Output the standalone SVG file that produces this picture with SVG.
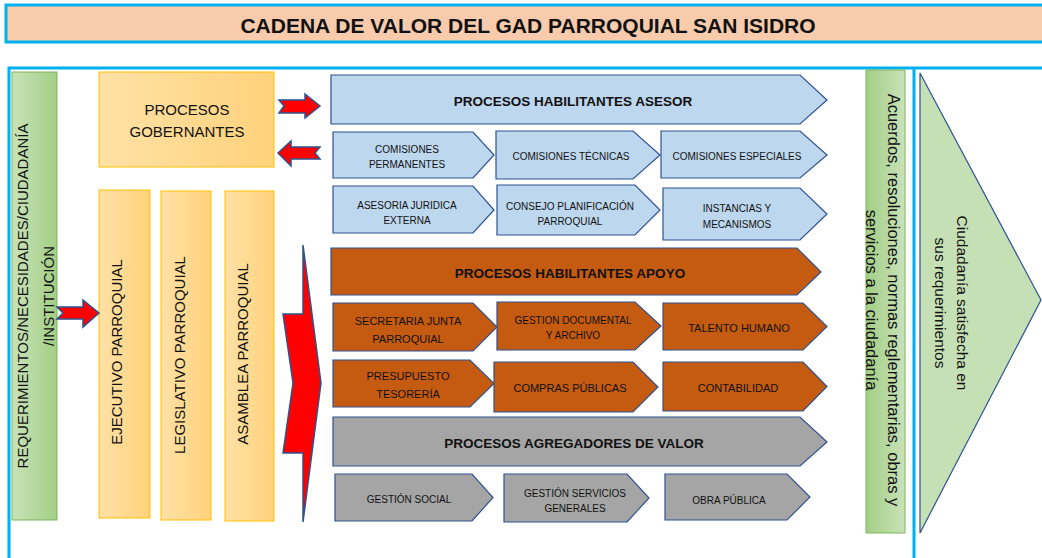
<svg xmlns="http://www.w3.org/2000/svg" width="1042" height="558" viewBox="0 0 1042 558">
<defs>
<linearGradient id="gGreen" x1="0" y1="0" x2="1" y2="0"><stop offset="0" stop-color="#C9E2B8"/><stop offset="1" stop-color="#A3CE86"/></linearGradient>
<linearGradient id="gGreenR" x1="0" y1="0" x2="1" y2="0"><stop offset="0" stop-color="#A3CE86"/><stop offset="1" stop-color="#C9E2B8"/></linearGradient>
<linearGradient id="gOrange" x1="0" y1="0" x2="1" y2="0"><stop offset="0" stop-color="#FFE1A6"/><stop offset="1" stop-color="#FFD27C"/></linearGradient>
</defs>
<style>
text{font-family:"Liberation Sans",Arial,sans-serif;fill:#111}
.frame{fill:none;stroke:#00B0F0;stroke-width:3}
.green{fill:url(#gGreen);stroke:#7DB75A;stroke-width:1}
.greenR{fill:url(#gGreenR);stroke:#7DB75A;stroke-width:1}
.orange{fill:url(#gOrange);stroke:#FFC000;stroke-width:1}
.blue{fill:#BDD7EE;stroke:#2F528F;stroke-width:1.2}
.brown{fill:#C55A11;stroke:#2F528F;stroke-width:1.2}
.grey{fill:#A5A5A5;stroke:#2F528F;stroke-width:1.2}
.tri{fill:#C5E0B4;stroke:#2F528F;stroke-width:1.2}
.red{fill:#FF0000;stroke:#2F528F;stroke-width:1.5;stroke-linejoin:miter}
.hd{font-weight:bold;font-size:13.5px;text-anchor:middle}
.sm{font-size:10px;text-anchor:middle}
.md{font-size:11px;text-anchor:middle}
.vt{font-size:15px;text-anchor:middle}
</style>

<g id="title">
<rect x="6" y="5" width="1045" height="37" fill="#F8CBAD" stroke="#00B0F0" stroke-width="3"/>
<text x="528" y="33" font-size="21" font-weight="bold" text-anchor="middle">CADENA DE VALOR DEL GAD PARROQUIAL SAN ISIDRO</text>
</g>

<g id="frame">
<path class="frame" d="M9,558 V68 H1045 M914,68 V558"/>
</g>

<g id="entrada">
<rect class="green" x="12" y="72" width="45" height="448"/>
<text class="vt" transform="translate(28,296) rotate(-90)">REQUERIMIENTOS/NECESIDADES/CIUDADANÍA</text>
<text class="vt" transform="translate(54,296) rotate(-90)">/INSTITUCIÓN</text>
</g>

<g id="gobernantes">
<rect class="orange" x="99" y="72" width="175" height="95"/>
<text x="187" y="115" font-size="15" text-anchor="middle">PROCESOS</text>
<text x="187" y="137" font-size="15" text-anchor="middle">GOBERNANTES</text>
</g>

<g id="ejecutivo">
<rect class="orange" x="99" y="190" width="51" height="328"/>
<text class="vt" transform="translate(122,352) rotate(-90)">EJECUTIVO PARROQUIAL</text>
</g>
<g id="legislativo">
<rect class="orange" x="161" y="191" width="50" height="329"/>
<text class="vt" transform="translate(185,355) rotate(-90)">LEGISLATIVO PARROQUIAL</text>
</g>
<g id="asamblea">
<rect class="orange" x="225" y="191" width="49" height="330"/>
<text class="vt" transform="translate(248,354) rotate(-90)">ASAMBLEA PARROQUIAL</text>
</g>

<g id="connectors">
<polygon class="red" points="279,100 305,100 305,94 320,106 305,118 305,113 279,113 284,106"/>
<polygon class="red" points="278,153 291,141 291,147 320,147 315,153 320,159 291,159 291,166"/>
<polygon class="red" points="57,307 83,307 83,300 99,313 83,327 83,319 57,319 63,313"/>
<polygon class="red" points="303,245 321,383 303,522 303,453 283,453 293,383 283,314 303,314"/>
</g>

<g id="asesor">
<polygon class="blue" points="331,75 800,75 827,100 800,124 331,124"/>
<text class="hd" x="573" y="106">PROCESOS HABILITANTES ASESOR</text>
</g>
<g id="comisiones-permanentes">
<polygon class="blue" points="333,132 473,132 494,155 473,178 333,178"/>
<text class="sm" x="407" y="152.5">COMISIONES</text>
<text class="sm" x="407" y="168">PERMANENTES</text>
</g>
<g id="comisiones-tecnicas">
<polygon class="blue" points="496,131 633,131 660,155 633,179 496,179"/>
<text class="sm" x="571" y="160">COMISIONES TÉCNICAS</text>
</g>
<g id="comisiones-especiales">
<polygon class="blue" points="661,131 800,131 827,155 800,178 661,178"/>
<text class="sm" x="737" y="160">COMISIONES ESPECIALES</text>
</g>
<g id="asesoria-juridica">
<polygon class="blue" points="333,186 473,186 494,210 473,233 333,233"/>
<text class="sm" x="407" y="209">ASESORIA JURIDICA</text>
<text class="sm" x="407" y="224">EXTERNA</text>
</g>
<g id="consejo-planificacion">
<polygon class="blue" points="497,185 635,185 660,210 635,235 497,235"/>
<text class="sm" x="570" y="210">CONSEJO PLANIFICACIÓN</text>
<text class="sm" x="570" y="225">PARROQUIAL</text>
</g>
<g id="instancias">
<polygon class="blue" points="663,188 800,188 827,214 800,240 663,240"/>
<text class="sm" x="737" y="212">INSTANCIAS Y</text>
<text class="sm" x="737" y="228">MECANISMOS</text>
</g>

<g id="apoyo">
<polygon class="brown" points="331,248 797,248 821,272 797,295 331,295"/>
<text class="hd" x="570" y="277.5">PROCESOS HABILITANTES APOYO</text>
</g>
<g id="secretaria">
<polygon class="brown" points="333,303 473,303 497,327 473,351 333,351"/>
<text class="md" x="408" y="325">SECRETARIA JUNTA</text>
<text class="md" x="408" y="343">PARROQUIAL</text>
</g>
<g id="gestion-documental">
<polygon class="brown" points="497,302 635,302 661,326 635,350 497,350"/>
<text class="sm" x="573" y="324">GESTION DOCUMENTAL</text>
<text class="sm" x="573" y="339">Y ARCHIVO</text>
</g>
<g id="talento-humano">
<polygon class="brown" points="663,303 803,303 827,326.5 803,350 663,350"/>
<text class="md" x="739" y="332">TALENTO HUMANO</text>
</g>
<g id="presupuesto">
<polygon class="brown" points="333,360 470,360 494,383.5 470,407 333,407"/>
<text class="md" x="408" y="380">PRESUPUESTO</text>
<text class="md" x="408" y="398">TESORERÍA</text>
</g>
<g id="compras-publicas">
<polygon class="brown" points="494,362 633,362 658,387 633,412 494,412"/>
<text class="md" x="570" y="392">COMPRAS PÚBLICAS</text>
</g>
<g id="contabilidad">
<polygon class="brown" points="663,362 803,362 827,386.5 803,411 663,411"/>
<text class="md" x="738" y="392">CONTABILIDAD</text>
</g>

<g id="agregadores">
<polygon class="grey" points="333,417 800,417 827,442 800,466 333,466"/>
<text class="hd" x="574" y="447.5">PROCESOS AGREGADORES DE VALOR</text>
</g>
<g id="gestion-social">
<polygon class="grey" points="335,474 472,474 493,497.5 472,521 335,521"/>
<text class="sm" x="409" y="503">GESTIÓN SOCIAL</text>
</g>
<g id="gestion-servicios">
<polygon class="grey" points="504,474 627,474 649,498 627,522 504,522"/>
<text class="sm" x="575" y="497">GESTIÓN SERVICIOS</text>
<text class="sm" x="575" y="512">GENERALES</text>
</g>
<g id="obra-publica">
<polygon class="grey" points="665,474 787,474 810,497 787,520 665,520"/>
<text class="sm" x="729" y="504">OBRA PÚBLICA</text>
</g>

<g id="salida">
<rect class="greenR" x="866" y="70" width="39" height="463"/>
<text transform="translate(888,300) rotate(90)" font-size="16.5" text-anchor="middle">Acuerdos, resoluciones, normas reglementarias, obras y</text>
<text transform="translate(866,300) rotate(90)" font-size="16.5" text-anchor="middle">servicios a la ciudadanía</text>
</g>

<g id="resultado">
<polygon class="tri" points="920,73 1041,300 920,533"/>
<text transform="translate(957,303) rotate(90)" font-size="15.5" text-anchor="middle">Ciudadanía satisfecha en</text>
<text transform="translate(935,303) rotate(90)" font-size="15.5" text-anchor="middle">sus requerimientos</text>
</g>
</svg>
